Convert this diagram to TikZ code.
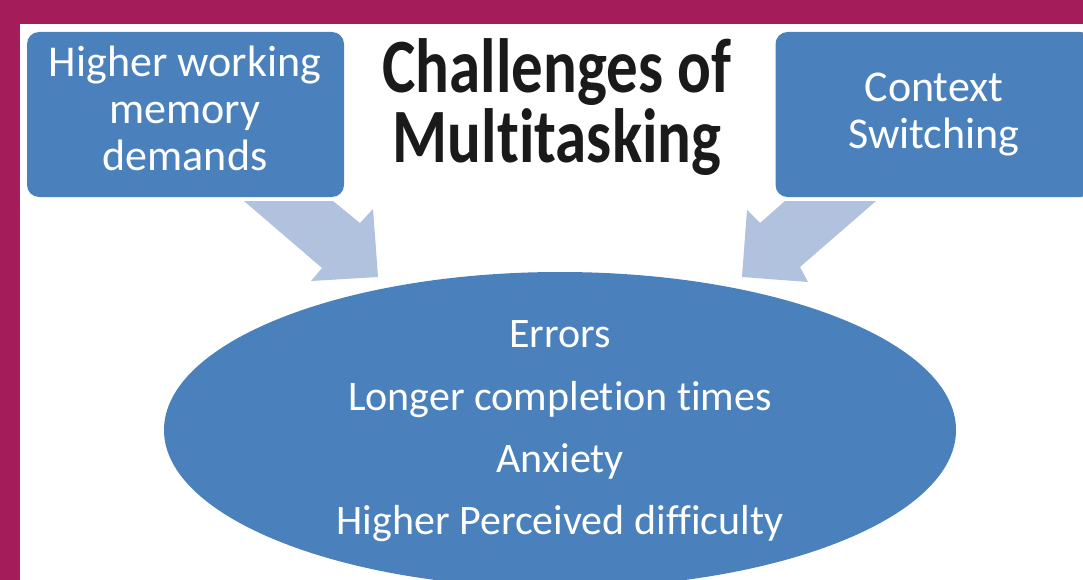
\documentclass[tikz,border=0pt]{standalone}
\usepackage{fontspec}
\setmainfont{Carlito}[RawFeature={-liga;-clig;-dlig}]
\usepackage{graphicx}
\usetikzlibrary{shapes.geometric}
\definecolor{frame}{HTML}{A41C5A}
\definecolor{boxblue}{HTML}{4A81BD}
\definecolor{arrowblue}{HTML}{B0C2DE}
\definecolor{titleink}{HTML}{1A1A1A}
% two centred lines with a fixed baseline distance, stretched vertically
\newcommand{\tallpair}[2]{\scalebox{1}[1.22]{\vbox{\baselineskip=57.4pt
  \lineskiplimit=-\maxdimen\halign{\hfil##\hfil\cr #1\cr #2\cr}}}}
\tikzset{
  causebox/.style={fill=boxblue, draw=none, rounded corners=12pt, inner sep=0pt,
    minimum width=317pt, minimum height=165pt},
  boxtext/.style={text=white, align=center, inner sep=0pt,
    font=\fontsize{44}{47}\selectfont},
  titletext/.style={text=titleink, anchor=base, inner sep=0pt,
    font=\fontsize{63}{57}\selectfont\bfseries},
  effectline/.style={text=white, anchor=base, inner sep=0pt,
    font=\fontsize{42}{62}\selectfont},
  blockarrow/.style={fill=arrowblue, draw=none}
}
\begin{document}
\begin{tikzpicture}[x=1pt, y=-1pt]
\useasboundingbox (0,0) rectangle (1083,580);
\clip (0,0) rectangle (1083,580);
\fill[white] (0,0) rectangle (1083,580);

% frame bands
\fill[frame] (0,0) rectangle (1083,24);
\fill[frame] (0,0) rectangle (20,580);

% causes
\node[causebox] (mem) at (185.5,114.5) {};
\node[boxtext] (memtext) at (185,108) {Higher working\\memory\\demands};
\node[causebox] (ctx) at (934,114.5) {};
\node[boxtext] (ctxtext) at (934,114.5) {Context\\Switching};

% title
\node[titletext] (title) at (557,163) {\tallpair{Challenges of}{Multitasking}};

% block arrows into the effects
\fill[blockarrow] (244,201) -- (333,201) -- (360,223) -- (373,209)
  -- (378,277) -- (311,281) -- (322,268) -- cycle;
\fill[blockarrow] (785,201) -- (876,201) -- (800,267) -- (808,282)
  -- (742,277) -- (747,210) -- (760,223) -- cycle;

% effects
\node[ellipse, fill=boxblue, draw=none, inner sep=0pt,
  minimum width=792pt, minimum height=316pt] (eff) at (560,430) {};
\node[effectline] (e1) at (560,347) {Errors};
\node[effectline] (e2) at (560,410) {Longer completion times};
\node[effectline] (e3) at (560,472) {Anxiety};
\node[effectline] (e4) at (560,534) {Higher Perceived difficulty};
\end{tikzpicture}
\end{document}
